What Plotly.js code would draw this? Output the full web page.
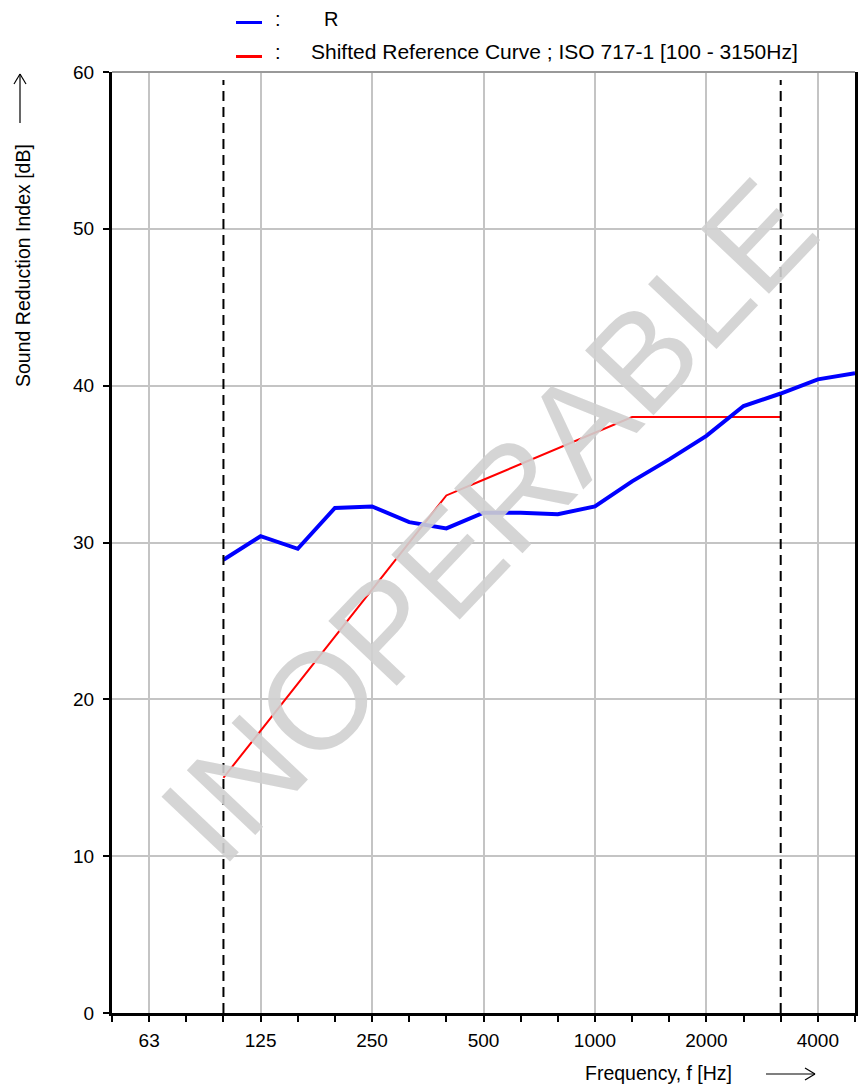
<!DOCTYPE html>
<html>
<head>
<meta charset="utf-8">
<script src="https://cdn.plot.ly/plotly-3.0.1.min.js"></script>
<style>html,body{margin:0;padding:0;background:#fff;}#chart{width:858px;height:1086px;}</style>
</head>
<body>
<div id="chart"></div>
<script>
// Third-octave band nominal frequencies (Hz)
const freqR = [100,125,160,200,250,315,400,500,630,800,1000,1250,1600,2000,2500,3150,4000,5000];
const valuesR = [28.9,30.4,29.6,32.2,32.3,31.3,30.9,31.9,31.9,31.8,32.3,33.9,35.3,36.8,38.7,39.5,40.4,40.8];
const freqRef = [100,125,160,200,250,315,400,500,630,800,1000,1250,1600,2000,2500,3150];
const valuesRef = [15,18,21,24,27,30,33,34,35,36,37,38,38,38,38,38];
const allBands = [50,63,80,100,125,160,200,250,315,400,500,630,800,1000,1250,1600,2000,2500,3150,4000,5000];
const labelBands = [63,125,250,500,1000,2000,4000];
const tickLabels = ["63","125","250","500","1000","2000","4000"];
const evalRange = [100,3150];
const yTicks = [0,10,20,30,40,50,60];

// exact band centre (base-10 preferred series) for a nominal frequency
const bc = f => Math.pow(10, Math.round(10*Math.log10(f))/10);

const font = "Liberation Sans, Arial, sans-serif";
const L = 112, T = 72, W = 743, H = 941;
const px = x => (x - L)/W;
const py = y => (T + H - y)/H;

const traces = [
  {x: freqRef.map(bc), y: valuesRef, mode: 'lines', line: {color: 'rgb(255,0,0)', width: 2}, hoverinfo: 'skip'},
  {x: freqR.map(bc), y: valuesR, mode: 'lines', line: {color: 'rgb(0,0,255)', width: 4}, hoverinfo: 'skip'}
];

const shapes = [];
evalRange.forEach(f => shapes.push({type: 'line', xref: 'x', yref: 'paper', x0: bc(f), x1: bc(f), y0: 0, y1: py(80),
  line: {color: '#000', width: 2, dash: '10px,6px'}, layer: 'above'}));
// top frame
shapes.push({type:'line', xref:'paper', yref:'paper', x0:0, x1:1, y0:1, y1:1, line:{color:'#999', width:2}});
// legend lines
shapes.push({type:'line', xref:'paper', yref:'paper', x0:px(236), x1:px(262), y0:py(22.5), y1:py(22.5), line:{color:'rgb(0,0,255)', width:3}});
shapes.push({type:'line', xref:'paper', yref:'paper', x0:px(236), x1:px(262), y0:py(56.5), y1:py(56.5), line:{color:'rgb(255,0,0)', width:3}});
// y arrow
shapes.push({type:'line', xref:'paper', yref:'paper', x0:px(20), x1:px(20), y0:py(123), y1:py(74), line:{color:'#000', width:1.2}});
shapes.push({type:'line', xref:'paper', yref:'paper', x0:px(14), x1:px(20), y0:py(84), y1:py(74), line:{color:'#000', width:1.2}});
shapes.push({type:'line', xref:'paper', yref:'paper', x0:px(26), x1:px(20), y0:py(84), y1:py(74), line:{color:'#000', width:1.2}});
// x arrow
shapes.push({type:'line', xref:'paper', yref:'paper', x0:px(766), x1:px(815), y0:py(1074), y1:py(1074), line:{color:'#000', width:1.2}});
shapes.push({type:'line', xref:'paper', yref:'paper', x0:px(805), x1:px(815), y0:py(1068), y1:py(1074), line:{color:'#000', width:1.2}});
shapes.push({type:'line', xref:'paper', yref:'paper', x0:px(805), x1:px(815), y0:py(1080), y1:py(1074), line:{color:'#000', width:1.2}});

const ann = (text, x, y, size, extra) => Object.assign({text, xref:'paper', yref:'paper', x: px(x), y: py(y),
  showarrow:false, xanchor:'center', yanchor:'middle', font:{family:font, size, color:'#000'}}, extra || {});

const annotations = [
  ann('INOPERABLE', 488, 520, 137, {textangle:-46.5, font:{family:font, size:137, color:'rgba(208,208,208,0.9)'}}),
  ann(':', 278, 19, 20),
  ann('R', 331, 19, 20),
  ann(':', 278, 52, 20),
  ann('Shifted Reference Curve ; ISO 717-1 [100 - 3150Hz]', 309, 52, 21, {xanchor:'left'}),
  ann('Sound Reduction Index [dB]', 23, 266, 19.5, {textangle:-90}),
  ann('Frequency, f [Hz]', 658, 1073, 19.5)
];

const layout = {
  width: 858, height: 1086,
  margin: {l: L, r: 858 - L - W, t: T, b: 1086 - T - H, pad: 0},
  paper_bgcolor: '#fff', plot_bgcolor: '#fff',
  showlegend: false,
  font: {family: font, color: '#000'},
  xaxis: {
    type: 'log', range: [Math.log10(bc(50)), Math.log10(bc(5000))],
    tickmode: 'array', tickvals: labelBands.map(bc), ticktext: tickLabels,
    ticks: 'outside', ticklen: 6, tickwidth: 2, tickcolor: '#000', ticklabelstandoff: 2,
    showgrid: true, gridcolor: '#c4c4c4', gridwidth: 2,
    showline: true, linecolor: '#000', linewidth: 3, mirror: false,
    zeroline: false, tickfont: {family: font, size: 19, color: '#000'},
    minor: {tickmode: 'array', tickvals: allBands.map(bc), ticks: 'outside', ticklen: 6, tickwidth: 2, tickcolor: '#000', showgrid: false},
    fixedrange: true
  },
  yaxis: {
    range: [0, 60], tickmode: 'array', tickvals: yTicks,
    ticks: 'outside', ticklen: 6, tickwidth: 2, tickcolor: '#000', ticklabelstandoff: 5,
    showgrid: true, gridcolor: '#c4c4c4', gridwidth: 2,
    showline: true, linecolor: '#000', linewidth: 3, mirror: true,
    zeroline: false, tickfont: {family: font, size: 19, color: '#000'},
    fixedrange: true
  },
  shapes: shapes,
  annotations: annotations
};

Plotly.newPlot('chart', traces, layout, {displayModeBar: false, staticPlot: true});
</script>
</body>
</html>
